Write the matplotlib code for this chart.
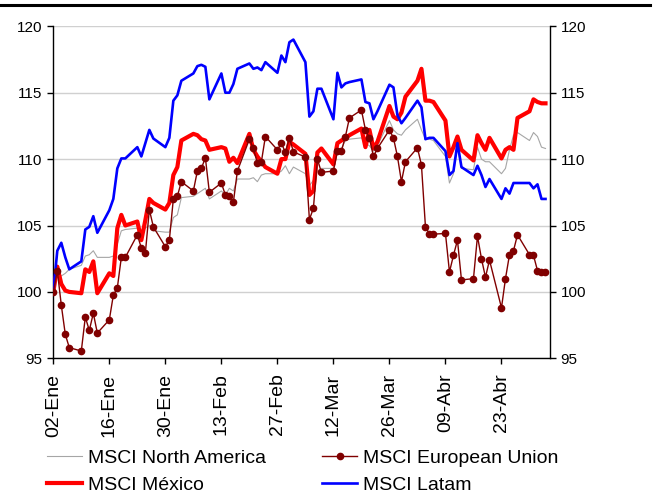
import pandas as pd
import matplotlib
matplotlib.use('Agg')
import matplotlib.pyplot as plt
from matplotlib.lines import Line2D

plt.rcParams['font.family'] = ['Liberation Sans', 'DejaVu Sans']

# business days 02-Ene-2012 .. 04-May-2012 (index, base 100)
dates = pd.bdate_range('2012-01-02', '2012-05-04')

north_america = [
    100, 101.5, 101.2, 101.4, 101.7,
    102.0, 102.7, 102.8, 103.1, 102.6,
    102.6, 102.7, 103.6, 104.6, 104.7,
    104.8, 104.6, 104.8, 105.0, 104.6,
    104.5, 104.5, 105.6, 105.8, 107.1,
    107.2, 107.4, 107.6, 107.8, 107.0,
    107.6, 107.3, 107.8, 107.6, 108.5,
    108.5, 108.6, 108.3, 108.8, 108.9,
    108.9, 109.1, 109.5, 108.9, 109.4,
    108.9, 108.0, 108.4, 109.1, 109.3,
    109.3, 110.8, 110.8, 111.4, 111.5,
    111.6, 111.2, 111.0, 110.6, 111.0,
    112.9, 112.2, 111.9, 111.8, 112.2,
    113.0, 112.2, 111.5, 111.5, 111.4,
    110.2, 108.2, 108.9, 111.0, 109.3,
    109.2, 110.9, 110.0, 109.8, 109.8,
    108.9, 109.3, 110.7, 111.8, 112.0,
    111.4, 112.0, 111.7, 110.9, 110.8,
]
european_union = [
    100, 101.6, 99.0, 96.8, 95.8,
    95.55, 98.1, 97.1, 98.4, 96.9,
    97.9, 99.75, 100.3, 102.6, 102.6,
    104.3, 103.3, 102.9, 106.2, 104.9,
    103.4, 103.9, 107.0, 107.2, 108.3,
    107.6, 109.1, 109.3, 110.1, 107.5,
    108.2, 107.3, 107.2, 106.75, 109.1,
    111.5, 110.8, 109.7, 109.8, 111.7,
    110.7, 111.2, 110.5, 111.6, 110.55,
    110.15, 105.45, 106.3, 110.0, 109.0,
    109.1, 110.6, 110.6, 111.7, 113.1,
    113.7, 112.2, 111.6, 110.2, 110.8,
    112.2, 111.6, 110.2, 108.3, 109.8,
    110.85, 109.55, 104.9, 104.35, 104.35,
    104.4, 101.5, 102.75, 103.9, 100.9,
    101.0, 104.2, 102.5, 101.1, 102.4,
    98.8, 101.0, 102.8, 103.1, 104.3,
    102.8, 102.75, 101.6, 101.5, 101.5,
]
mexico = [
    100, 101.9, 100.6, 100.1, 100.0,
    99.9, 101.7, 101.5, 102.3, 99.9,
    101.4, 101.2, 104.8, 105.8, 105.0,
    105.3, 103.9, 105.4, 107.0, 106.7,
    106.2, 106.7, 108.8, 109.4, 111.4,
    111.9, 111.8, 111.5, 111.4, 110.7,
    110.9, 110.8, 109.8, 110.1, 109.7,
    111.9, 110.7, 110.2, 109.8, 109.4,
    108.9, 110.0, 110.0, 111.3, 111.1,
    110.4, 107.3, 107.6, 110.5, 110.8,
    109.6, 111.2, 111.4, 111.6, 111.8,
    112.3, 110.9, 112.2, 110.8, 111.3,
    114.0, 113.2, 113.0, 113.5, 114.7,
    115.9, 116.8, 114.4, 114.4, 114.3,
    112.9, 110.2, 110.9, 111.7, 110.7,
    109.9, 111.8, 111.2, 110.7, 111.6,
    110.05, 110.7, 110.9, 110.7, 113.1,
    113.6, 114.5, 114.3, 114.2, 114.2,
]
latam = [
    100, 103.1, 103.7, 102.6, 101.7,
    102.3, 104.7, 104.9, 105.7, 104.45,
    106.15, 107.0, 109.3, 110.05, 110.05,
    110.9, 110.2, 111.2, 112.2, 111.55,
    110.9, 111.6, 114.4, 114.8, 115.9,
    116.45, 117.0, 117.1, 116.95, 114.5,
    116.45, 115.0, 115.0, 115.65, 116.8,
    117.2, 116.8, 116.9, 116.7, 117.3,
    116.5, 117.8, 117.3, 118.8, 119.0,
    117.3, 113.2, 113.6, 115.3, 115.3,
    113.0, 116.5, 115.4, 115.7, 115.8,
    116.0, 114.3, 114.2, 113.0, 113.6,
    115.6, 115.4, 113.3, 112.7, 113.1,
    114.4, 113.9, 111.5, 111.6, 111.6,
    110.6, 108.8, 109.1, 111.2, 109.4,
    108.8, 109.5, 108.8, 107.9, 108.5,
    107.0, 107.8, 107.4, 108.2, 108.2,
    108.2, 107.8, 108.1, 107.0, 107.0,
]

tick_dates = pd.date_range('2012-01-02', periods=9, freq='14D')
tick_labels = ['02-Ene', '16-Ene', '30-Ene', '13-Feb', '27-Feb',
               '12-Mar', '26-Mar', '09-Abr', '23-Abr']

fig = plt.figure(figsize=(6.6, 4.91), dpi=100)
ax = fig.add_axes([53.3 / 660, 1 - 358.3 / 491, (549.5 - 53.3) / 660, (358.3 - 26.3) / 491])

l_na, = ax.plot(dates, north_america, color='#a6a6a6', lw=0.8, zorder=3)
l_mx, = ax.plot(dates, mexico, color='#ff0000', lw=3.0, zorder=4)
l_la, = ax.plot(dates, latam, color='#0000ff', lw=1.9, zorder=5)
l_eu, = ax.plot(dates, european_union, color='#800000', lw=1.0, marker='o',
                markersize=4.5, zorder=6)

ax.set_ylim(95, 120)
ax.set_yticks(range(95, 121, 5))
ax.set_xlim(pd.Timestamp('2012-01-02'), pd.Timestamp('2012-05-05'))
ax.set_xticks(tick_dates)
ax.set_xticklabels(tick_labels, rotation=90, fontsize=14)

ax.yaxis.grid(True, color='#d0d0d0', lw=1.0, zorder=0)
ax.set_axisbelow(True)
ax.spines['top'].set_visible(False)
for s in ['left', 'right', 'bottom']:
    ax.spines[s].set_color('black')
    ax.spines[s].set_linewidth(1.0)

ax.tick_params(axis='y', direction='out', length=4, width=1, labelsize=11,
               left=True, right=True, labelleft=True, labelright=True, pad=4)
ax.tick_params(axis='x', direction='out', length=4, width=1, pad=7)

fig.legend([l_na, l_mx, l_eu, l_la],
           ['MSCI North America', 'MSCI México', 'MSCI European Union', 'MSCI Latam'],
           ncol=2, loc='upper left', bbox_to_anchor=(47 / 660, 1 - 449 / 491),
           frameon=False, fontsize=14, handlelength=1.8, handletextpad=0.3,
           columnspacing=2.9, labelspacing=0.5, borderpad=0, borderaxespad=0)

# black rule along the top edge
fig.add_artist(Line2D([0, 650 / 660], [1 - 4.8 / 491] * 2, color='black', lw=2.2,
                      transform=fig.transFigure))

fig.savefig('out.png', dpi=100)
